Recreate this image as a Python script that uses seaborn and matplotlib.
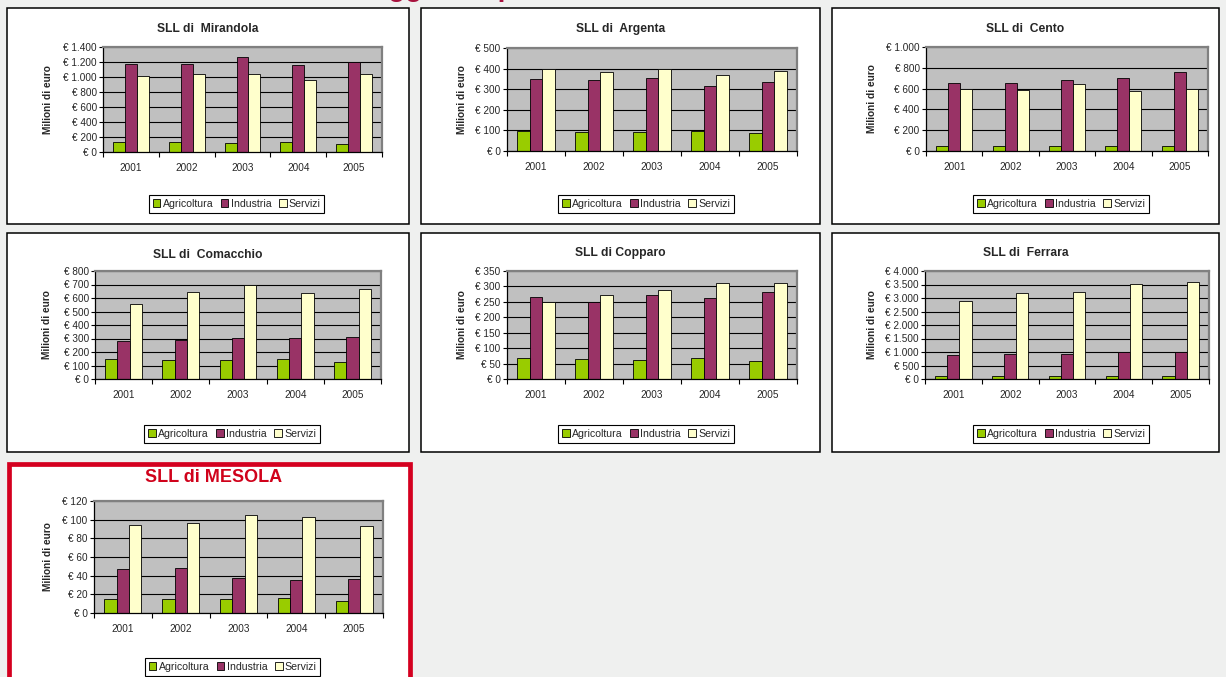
import pandas as pd
import matplotlib.pyplot as plt
import seaborn as sns
from matplotlib.patches import Rectangle, Patch
from matplotlib.ticker import FuncFormatter, MultipleLocator, FixedLocator

# --- dati (milioni di euro) ---
anni = ['2001', '2002', '2003', '2004', '2005']
settori = ['Agricoltura', 'Industria', 'Servizi']
colori = {'Agricoltura': '#99cc00', 'Industria': '#993366', 'Servizi': '#ffffcc'}

mirandola_agri = [140, 140, 126, 140, 113]
mirandola_ind = [1179, 1179, 1265, 1161, 1201]
mirandola_serv = [1016, 1034, 1043, 958, 1034]

argenta_agri = [97, 94, 91, 97, 86]
argenta_ind = [351, 346, 356, 317, 333]
argenta_serv = [396, 385, 400, 371, 387]

cento_agri = [52, 45, 45, 52, 45]
cento_ind = [655, 655, 684, 703, 761]
cento_serv = [597, 584, 642, 577, 600]

comacchio_agri = [148, 140, 138, 150, 128]
comacchio_ind = [283, 290, 303, 303, 310]
comacchio_serv = [554, 645, 697, 638, 667]

copparo_agri = [69, 64, 61, 69, 58]
copparo_ind = [265, 249, 271, 264, 282]
copparo_serv = [250, 272, 288, 310, 310]

ferrara_agri = [123, 123, 123, 123, 111]
ferrara_ind = [889, 914, 914, 988, 988]
ferrara_serv = [2901, 3198, 3235, 3531, 3593]

mesola_agri = [15.3, 14.6, 14.6, 16.4, 12.5]
mesola_ind = [47.4, 47.7, 37.4, 34.9, 36.0]
mesola_serv = [94.7, 96.2, 105.4, 103.3, 93.7]

# --- layout in pixel ---
W, H = 1226, 677
sns.set_style("white")
plt.rcParams['font.family'] = ['Liberation Sans', 'DejaVu Sans']

fig = plt.figure(figsize=(W / 100, H / 100), dpi=100, facecolor='#eff0ef')


def rect_fig(x0, y0, x1, y1):
    return [x0 / W, 1 - y1 / H, (x1 - x0) / W, (y1 - y0) / H]


def euro(v, pos):
    return '€ ' + f'{v:,.0f}'.replace(',', '.')


# titolo di pagina tagliato in alto (se ne vedono solo le code)
fig.text(282 / W, 1 + 4 / H, 'Valore aggiunto per settore', color='#a8123e',
         fontsize=20, weight='bold', ha='left', va='baseline')

pannelli = [
    ('SLL di  Mirandola', (7, 8, 409, 224), (103, 47, 382, 152), 1400, 200,
     mirandola_agri, mirandola_ind, mirandola_serv, 29, 166, 204, 48),
    ('SLL di  Argenta', (421, 8, 820, 224), (507, 48, 797, 151), 500, 100,
     argenta_agri, argenta_ind, argenta_serv, 29, 166, 204, 462),
    ('SLL di  Cento', (832, 8, 1219, 224), (926, 47, 1208, 151), 1000, 200,
     cento_agri, cento_ind, cento_serv, 29, 166, 204, 872),
    ('SLL di  Comacchio', (7, 233, 409, 452), (95, 271, 381, 379), 800, 100,
     comacchio_agri, comacchio_ind, comacchio_serv, 255, 393, 434, 47),
    ('SLL di Copparo', (421, 233, 820, 452), (507, 271, 797, 379), 350, 50,
     copparo_agri, copparo_ind, copparo_serv, 253, 393, 434, 462),
    ('SLL di  Ferrara', (832, 233, 1219, 452), (925, 271, 1209, 379), 4000, 500,
     ferrara_agri, ferrara_ind, ferrara_serv, 253, 393, 434, 872),
    ('SLL di MESOLA', (9, 464, 410, 700), (94, 501, 383, 613), 120, 20,
     mesola_agri, mesola_ind, mesola_serv, 477, 627, 667, 48),
]

for (titolo, cornice, area, ymax, passo, agri, ind, serv,
     y_tit, y_xlab, y_leg, x_ylab) in pannelli:
    mesola = 'MESOLA' in titolo
    fx0, fy0, fx1, fy1 = cornice
    # cornice bianca del grafico
    fig.add_artist(Rectangle((fx0 / W, 1 - fy1 / H), (fx1 - fx0) / W, (fy1 - fy0) / H,
                             transform=fig.transFigure, facecolor='white',
                             edgecolor='#d4001f' if mesola else 'black',
                             lw=3.4 if mesola else 1.1, zorder=-1))

    df = pd.DataFrame({
        'anno': anni * 3,
        'settore': ['Agricoltura'] * 5 + ['Industria'] * 5 + ['Servizi'] * 5,
        'valore': agri + ind + serv,
    })

    ax = fig.add_axes(rect_fig(*area))
    sns.barplot(data=df, x='anno', y='valore', hue='settore', hue_order=settori,
                palette=colori, saturation=1, width=0.64, gap=0,
                edgecolor='black', linewidth=0.6, legend=False, errorbar=None, ax=ax)

    ax.set_facecolor('#c0c0c0')
    ax.set_axisbelow(True)
    ax.set_ylim(0, ymax)
    ax.set_xlim(-0.5, 4.5)
    ax.yaxis.set_major_locator(MultipleLocator(passo))
    ax.yaxis.set_major_formatter(FuncFormatter(euro))
    ax.yaxis.grid(True, color='black', lw=0.8)
    ax.xaxis.grid(False)

    ax.xaxis.set_minor_locator(FixedLocator([i - 0.5 for i in range(6)]))
    ax.tick_params(axis='x', which='major', length=0, pad=8, labelsize=7.2)
    ax.tick_params(axis='x', which='minor', length=3.5, width=0.8, direction='out',
                   color='black', bottom=True)
    ax.tick_params(axis='y', length=3, width=0.8, direction='out', color='black',
                   left=True, labelsize=7.2, pad=1.5)

    for s in ['left', 'bottom']:
        ax.spines[s].set_color('black')
        ax.spines[s].set_linewidth(0.9)
    for s in ['top', 'right']:
        ax.spines[s].set_color('#808080')
        ax.spines[s].set_linewidth(1.6)

    ax.set_xlabel('')
    ax.set_ylabel('Milioni di euro', fontsize=7.3, weight='bold')
    ax.yaxis.set_label_coords((x_ylab + 5) / W, 1 - ((area[1] + area[3]) / 2) / H,
                              transform=fig.transFigure)

    cx = (fx0 + fx1) / 2 / W
    if mesola:
        fig.text(cx + 4 / W, 1 - y_tit / H, titolo, ha='center', va='center',
                 fontsize=13, weight='bold', color='#d0021b')
    else:
        fig.text(cx, 1 - y_tit / H, titolo, ha='center', va='center',
                 fontsize=8.7, weight='bold')

    maniglie = [Patch(facecolor=colori[s], edgecolor='black', lw=0.6) for s in settori]
    leg = ax.legend(maniglie, settori, loc='center', ncol=3,
                    bbox_to_anchor=(((area[0] + area[2]) / 2 - 6) / W, 1 - y_leg / H),
                    bbox_transform=fig.transFigure, fontsize=7.6, frameon=True,
                    fancybox=False, edgecolor='black', framealpha=1,
                    handlelength=0.75, handleheight=0.75, handletextpad=0.2,
                    columnspacing=0.7, borderpad=0.35, borderaxespad=0)
    leg.get_frame().set_linewidth(0.8)

fig.savefig('out.png', dpi=100, facecolor=fig.get_facecolor())
